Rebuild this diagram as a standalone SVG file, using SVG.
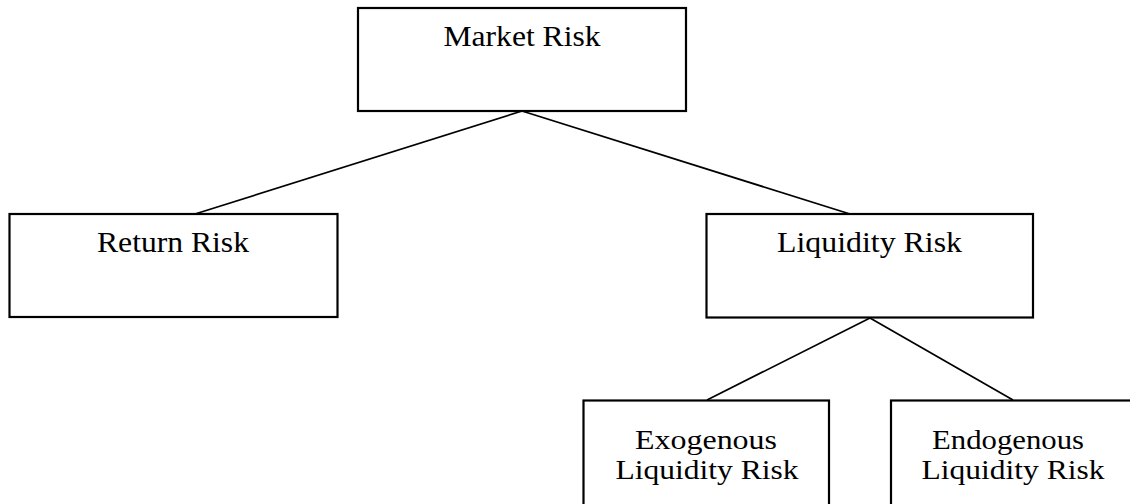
<svg xmlns="http://www.w3.org/2000/svg" width="1130" height="504" viewBox="0 0 1130 504">
<style>
.box{fill:#fff;stroke:#000;stroke-width:2.2}
.lbl{font-family:"Liberation Serif","Times New Roman",serif;font-size:29px;fill:#000;text-anchor:middle}
.sm{font-size:27px}
.conn line{stroke:#000;stroke-width:1.7}
</style>
<rect width="1130" height="504" fill="#fff"/>
<g class="conn" id="connectors">
<line x1="522" y1="111" x2="195" y2="214"/>
<line x1="522" y1="111" x2="850" y2="214"/>
<line x1="870" y1="318" x2="707" y2="400"/>
<line x1="870" y1="318" x2="1013" y2="400"/>
</g>
<g id="market-risk">
<rect class="box" x="358" y="8" width="328" height="103"/>
<text class="lbl" x="522" y="46" textLength="157" lengthAdjust="spacingAndGlyphs">Market Risk</text>
</g>
<g id="return-risk">
<rect class="box" x="9.5" y="214" width="328" height="103"/>
<text class="lbl" x="173" y="252" textLength="152" lengthAdjust="spacingAndGlyphs">Return Risk</text>
</g>
<g id="liquidity-risk">
<rect class="box" x="706.5" y="214" width="326.5" height="103.5"/>
<text class="lbl" x="869.5" y="252" textLength="185" lengthAdjust="spacingAndGlyphs">Liquidity Risk</text>
</g>
<g id="exogenous">
<rect class="box" x="583.5" y="400.5" width="245.5" height="110"/>
<text class="lbl sm" x="706" y="449" textLength="142" lengthAdjust="spacingAndGlyphs">Exogenous</text>
<text class="lbl sm" x="707" y="479" textLength="183" lengthAdjust="spacingAndGlyphs">Liquidity Risk</text>
</g>
<g id="endogenous">
<rect class="box" x="891" y="400.5" width="245" height="110"/>
<text class="lbl sm" x="1008" y="449" textLength="152" lengthAdjust="spacingAndGlyphs">Endogenous</text>
<text class="lbl sm" x="1013" y="479" textLength="183" lengthAdjust="spacingAndGlyphs">Liquidity Risk</text>
</g>
</svg>
